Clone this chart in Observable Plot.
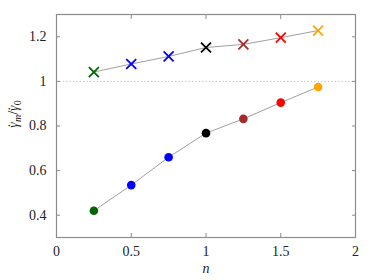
<!DOCTYPE html>
<html>
<head>
<meta charset="utf-8">
<script src="https://cdn.jsdelivr.net/npm/d3@7"></script>
<script src="https://cdn.jsdelivr.net/npm/@observablehq/plot@0.6"></script>
<style>
  html, body { margin: 0; padding: 0; background: #fff; }
  #chart svg { display: block; }
</style>
</head>
<body>
<div id="chart"></div>
<script>
const nValues = [0.25, 0.5, 0.75, 1.0, 1.25, 1.5, 1.75];
const crossValues = [1.042, 1.078, 1.112, 1.152, 1.166, 1.196, 1.228];
const circleValues = [0.42, 0.535, 0.66, 0.768, 0.832, 0.905, 0.975];
const pointColors = ["#006400", "#0000ff", "#0000ff", "#000000", "#a52a2a", "#ff0000", "#ffa500"];
const xTicks = [0, 0.5, 1, 1.5, 2];
const yTicks = [0.4, 0.6, 0.8, 1, 1.2];
const refLine = [1];

const crosses = nValues.map((n, i) => ({n, v: crossValues[i], c: pointColors[i]}));
const circles = nValues.map((n, i) => ({n, v: circleValues[i], c: pointColors[i]}));

const font = "Liberation Serif";
const frameColor = "#8c8c8c";

const plot = Plot.plot({
  width: 374,
  height: 280,
  marginLeft: 56,
  marginRight: 19,
  marginTop: 14,
  marginBottom: 43,
  style: {fontFamily: font, fontSize: "14px", color: "#222", background: "#fff"},
  x: {domain: [0, 2], label: null},
  y: {domain: [0.3, 1.3], label: null},
  marks: [
    Plot.ruleY(refLine, {stroke: "#bbbbbb", strokeDasharray: "1.2,2.2", strokeWidth: 1}),
    Plot.line(crosses, {x: "n", y: "v", stroke: "#a0a0a0", strokeWidth: 1}),
    Plot.line(circles, {x: "n", y: "v", stroke: "#a0a0a0", strokeWidth: 1}),
    Plot.dot(crosses, {x: "n", y: "v", symbol: "times", stroke: "c", r: 4.6, strokeWidth: 1.8}),
    Plot.dot(circles, {x: "n", y: "v", fill: "c", stroke: "c", r: 4.3, strokeWidth: 0}),
    Plot.frame({stroke: frameColor, strokeWidth: 1.2}),
    Plot.axisX({anchor: "bottom", ticks: xTicks, tickSize: -4, tickPadding: 13, stroke: frameColor, tickFormat: d => String(d), fontSize: 14}),
    Plot.axisX({anchor: "top", ticks: xTicks, tickSize: -4, tickFormat: () => "", stroke: frameColor}),
    Plot.axisY({anchor: "left", ticks: yTicks, tickSize: -4, tickPadding: 14, stroke: frameColor, tickFormat: d => String(d), fontSize: 14}),
    Plot.axisY({anchor: "right", ticks: yTicks, tickSize: -4, tickFormat: () => "", stroke: frameColor})
  ]
});

document.getElementById("chart").appendChild(plot);

const svg = d3.select(plot);
// x label
svg.append("text")
  .attr("x", 206).attr("y", 273)
  .attr("text-anchor", "middle")
  .attr("font-size", 14).attr("font-style", "italic")
  .attr("fill", "#222")
  .text("n");
// y label
const yl = svg.append("text")
  .attr("transform", "translate(18,114) rotate(-90)")
  .attr("text-anchor", "middle")
  .attr("font-size", 14).attr("font-style", "italic")
  .attr("fill", "#222");
yl.append("tspan").text("γ");
yl.append("tspan").attr("dx", -5.5).attr("font-style", "normal").text("˙");
yl.append("tspan").attr("dx", 1).attr("dy", 3).attr("font-size", 10).text("m");
yl.append("tspan").attr("dy", -3).attr("font-style", "normal").text("/");
yl.append("tspan").text("γ");
yl.append("tspan").attr("dx", -5.5).attr("font-style", "normal").text("˙");
yl.append("tspan").attr("dx", 1).attr("dy", 3).attr("font-size", 10).attr("font-style", "normal").text("0");

svg.selectAll("text").style("font-family", "'Liberation Serif'").attr("font-family", "Liberation Serif");
svg.selectAll("g").attr("font-family", "Liberation Serif");
</script>
</body>
</html>
